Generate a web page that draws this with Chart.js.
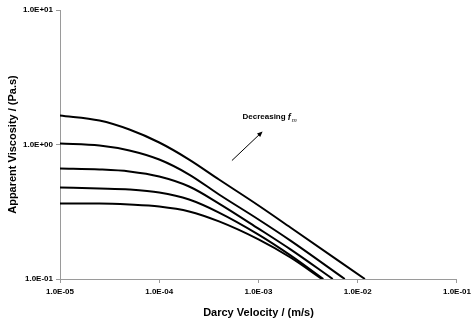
<!DOCTYPE html>
<html>
<head>
<meta charset="utf-8">
<script src="https://cdn.jsdelivr.net/npm/chart.js@4/dist/chart.umd.min.js"></script>
<style>
  html, body { margin: 0; padding: 0; background: #fff; }
  #wrap { width: 475px; height: 325px; }
</style>
</head>
<body>
<div id="wrap"><canvas id="visc-chart" width="475" height="325"></canvas></div>
<script>
// readings
const velocity = [1e-5, 2.5e-5, 5e-5, 1e-4, 2e-4, 4e-4, 1e-3, 2.1e-3];
const endVelocity = [1.18e-2, 7.4e-3, 5.6e-3, 4.5e-3, 4.35e-3];
const viscosity1 = [1.643, 1.508, 1.293, 1.035, 0.773, 0.549, 0.352, 0.2415, 0.1];
const viscosity2 = [1.017, 0.983, 0.903, 0.773, 0.598, 0.425, 0.277, 0.193, 0.1];
const viscosity3 = [0.663, 0.652, 0.630, 0.578, 0.487, 0.364, 0.237, 0.166, 0.1];
const viscosity4 = [0.479, 0.471, 0.463, 0.440, 0.390, 0.312, 0.214, 0.150, 0.1];
const viscosity5 = [0.364, 0.364, 0.358, 0.346, 0.318, 0.268, 0.197, 0.1445, 0.1];

const xTicks = [1e-5, 1e-4, 1e-3, 1e-2, 1e-1];
const xTickLabels = ['1.0E-05', '1.0E-04', '1.0E-03', '1.0E-02', '1.0E-01'];
const yTicks = [0.1, 1, 10];
const yTickLabels = ['1.0E-01', '1.0E+00', '1.0E+01'];

// arrow and label, in data units
const noteText = 'Decreasing ';
const noteAt = { x: 6.9e-4, y: 1.6 };
const arrowFrom = { x: 5.4e-4, y: 0.76 };
const arrowTo = { x: 1.1e-3, y: 1.25 };

const allCurves = [viscosity1, viscosity2, viscosity3, viscosity4, viscosity5];

function makePoints(vals, i) {
    const xs = velocity.concat([endVelocity[i]]);
    return vals.map((v, k) => ({ x: xs[k], y: v }));
}

const FONT = '"Liberation Sans", Arial, sans-serif';

const notePlugin = {
    id: 'note',
    afterDatasetsDraw(chart) {
        const ctx = chart.ctx;
        const xs = chart.scales.x, ys = chart.scales.y;
        ctx.save();
        ctx.fillStyle = '#000';
        ctx.textBaseline = 'middle';
        let tx = xs.getPixelForValue(noteAt.x);
        const ty = ys.getPixelForValue(noteAt.y);
        ctx.font = 'bold 8px ' + FONT;
        ctx.fillText(noteText, tx, ty);
        tx += ctx.measureText(noteText).width;
        ctx.font = 'italic bold 9px ' + FONT;
        ctx.fillText('f', tx, ty);
        tx += ctx.measureText('f').width + 1;
        ctx.font = 'italic 6px ' + FONT;
        ctx.fillText('m', tx, ty + 3);

        const x1 = xs.getPixelForValue(arrowFrom.x), y1 = ys.getPixelForValue(arrowFrom.y);
        const x2 = xs.getPixelForValue(arrowTo.x), y2 = ys.getPixelForValue(arrowTo.y);
        const ang = Math.atan2(y2 - y1, x2 - x1);
        ctx.strokeStyle = '#000';
        ctx.lineWidth = 1;
        ctx.beginPath();
        ctx.moveTo(x1, y1);
        ctx.lineTo(x2 - 3 * Math.cos(ang), y2 - 3 * Math.sin(ang));
        ctx.stroke();
        ctx.beginPath();
        ctx.moveTo(x2, y2);
        ctx.lineTo(x2 - 6 * Math.cos(ang - 0.4), y2 - 6 * Math.sin(ang - 0.4));
        ctx.lineTo(x2 - 6 * Math.cos(ang + 0.4), y2 - 6 * Math.sin(ang + 0.4));
        ctx.closePath();
        ctx.fill();
        ctx.restore();
    }
};

new Chart(document.getElementById('visc-chart').getContext('2d'), {
    type: 'line',
    data: {
        datasets: allCurves.map((vals, i) => ({
            data: makePoints(vals, i),
            borderColor: '#000',
            borderWidth: 2,
            pointRadius: 0,
            fill: false,
            cubicInterpolationMode: 'monotone'
        }))
    },
    options: {
        responsive: false,
        animation: false,
        layout: { padding: { left: 0, right: 18, top: 10, bottom: 0 } },
        plugins: { legend: { display: false }, tooltip: { enabled: false } },
        scales: {
            x: {
                type: 'logarithmic',
                min: 1e-5,
                max: 1e-1,
                afterBuildTicks: (s) => { s.ticks = xTicks.map(v => ({ value: v })); },
                afterFit: (s) => { s.height = 46; },
                ticks: {
                    color: '#000',
                    font: { family: FONT, size: 8, weight: 'bold' },
                    padding: 4,
                    maxRotation: 0,
                    autoSkip: false,
                    callback: (v, i) => xTickLabels[i]
                },
                grid: { drawOnChartArea: false, tickLength: 4, color: '#9a9a9a' },
                border: { color: '#9a9a9a', width: 1 },
                title: {
                    display: true,
                    text: 'Darcy Velocity / (m/s)',
                    color: '#000',
                    font: { family: FONT, size: 11, weight: 'bold' },
                    padding: { top: 0, bottom: 5 }
                }
            },
            y: {
                type: 'logarithmic',
                min: 0.1,
                max: 10,
                afterBuildTicks: (s) => { s.ticks = yTicks.map(v => ({ value: v })); },
                afterFit: (s) => { s.width = 60; },
                ticks: {
                    color: '#000',
                    font: { family: FONT, size: 8, weight: 'bold' },
                    padding: 3,
                    autoSkip: false,
                    callback: (v, i) => yTickLabels[i]
                },
                grid: { drawOnChartArea: false, tickLength: 4, color: '#9a9a9a' },
                border: { color: '#9a9a9a', width: 1 },
                title: {
                    display: true,
                    text: 'Apparent Viscosity / (Pa.s)',
                    color: '#000',
                    font: { family: FONT, size: 11, weight: 'bold' },
                    padding: { top: 6, bottom: 0 }
                }
            }
        }
    },
    plugins: [notePlugin]
});
</script>
</body>
</html>
